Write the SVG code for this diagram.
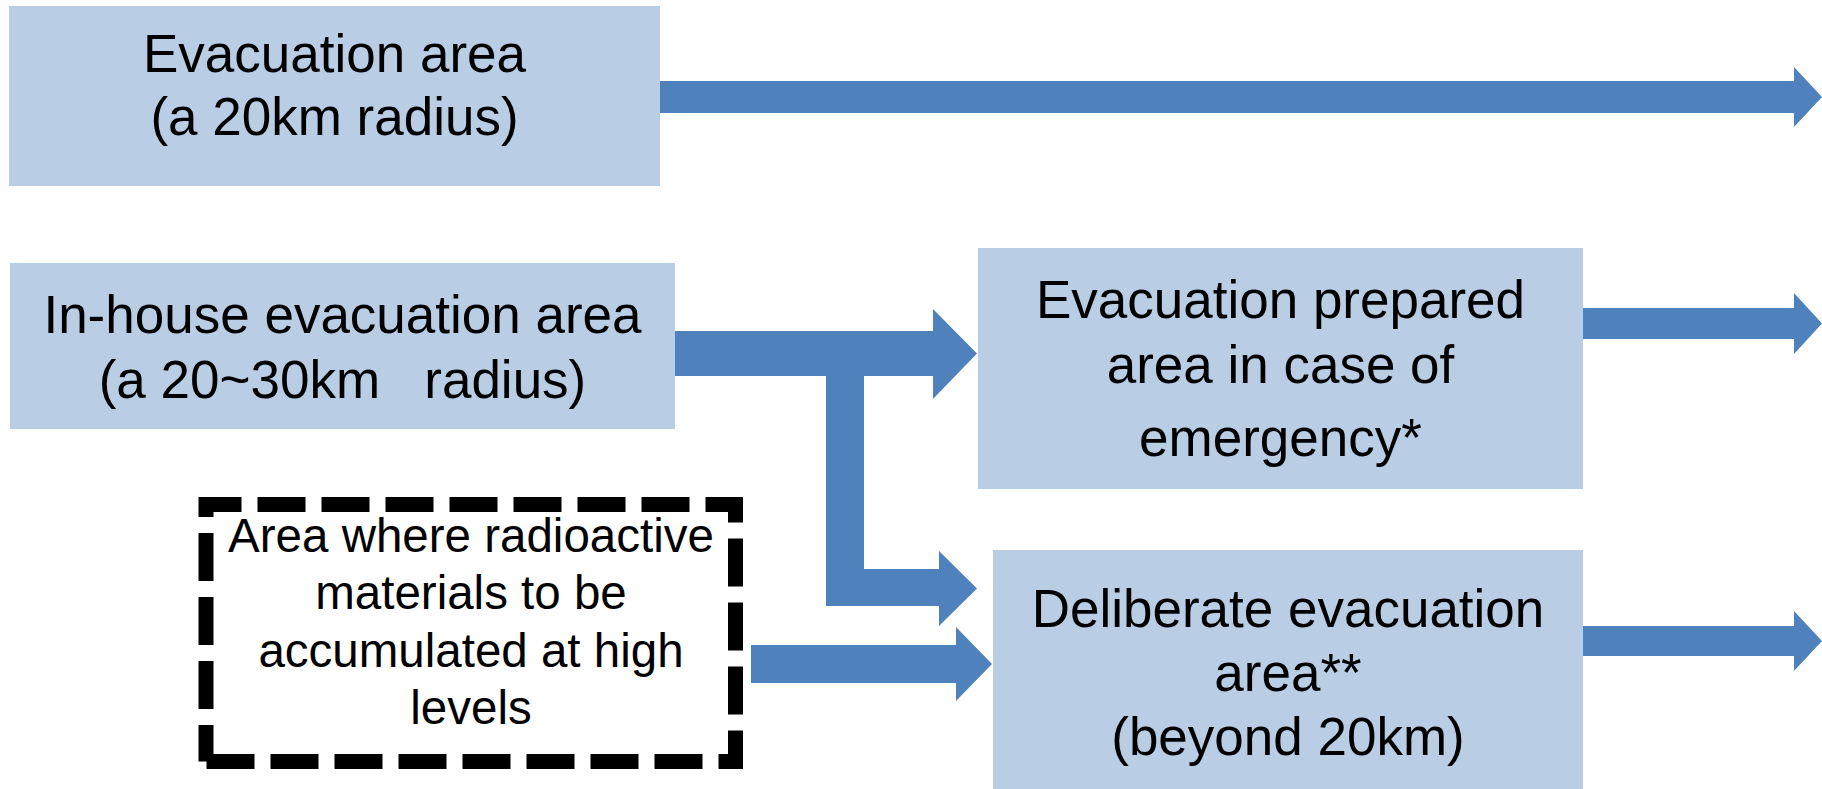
<svg xmlns="http://www.w3.org/2000/svg" width="1822" height="789" viewBox="0 0 1822 789">
  <style>
    .box { fill: #B9CDE5; }
    .t { font-family: "Liberation Sans", Arial, sans-serif; font-size: 53px; fill: #000; text-anchor: middle; white-space: pre; }
    .ts { font-family: "Liberation Sans", Arial, sans-serif; font-size: 47.5px; fill: #000; text-anchor: middle; }
    .arrow { fill: #4F81BD; }
    .dash { fill: none; stroke: #000; stroke-width: 15; stroke-dasharray: 48 16; stroke-linecap: butt; stroke-linejoin: miter; }
  </style>
  <rect width="1822" height="789" fill="#FFFFFF"/>

  <g id="evacuation-area">
    <rect class="box" x="9" y="6" width="651" height="180"/>
    <text class="t" x="334.5" y="72">Evacuation area</text>
    <text class="t" x="334.5" y="135">(a 20km radius)</text>
  </g>

  <g id="inhouse-evacuation-area">
    <rect class="box" x="10" y="263" width="665" height="166"/>
    <text class="t" x="342.5" y="333">In-house evacuation area</text>
    <text class="t" x="342.5" y="398" xml:space="preserve">(a 20~30km   radius)</text>
  </g>

  <g id="evacuation-prepared-area">
    <rect class="box" x="978" y="248" width="605" height="241"/>
    <text class="t" x="1280.5" y="318">Evacuation prepared</text>
    <text class="t" x="1280.5" y="383">area in case of</text>
    <text class="t" x="1280.5" y="456">emergency*</text>
  </g>

  <g id="deliberate-evacuation-area">
    <rect class="box" x="993" y="550" width="590" height="239"/>
    <text class="t" x="1288" y="627">Deliberate evacuation</text>
    <text class="t" x="1288" y="691">area**</text>
    <text class="t" x="1288" y="755">(beyond 20km)</text>
  </g>

  <g id="high-accumulation-area">
    <path class="dash" d="M206,517 V504.5 H735.5 V761.5 H206"/>
    <path class="dash" d="M206,533 V761.5"/>
    <text class="ts" x="471" y="552">Area where radioactive</text>
    <text class="ts" x="471" y="609">materials to be</text>
    <text class="ts" x="471" y="667">accumulated at high</text>
    <text class="ts" x="471" y="724">levels</text>
  </g>

  <g id="connectors">
    <path class="arrow" d="M660,81 H1794 V67 L1822,97 L1794,127 V113 H660 Z"/>
    <path class="arrow" d="M675,331 H933 V309 L977,353.5 L933,399 V376 H675 Z"/>
    <path class="arrow" d="M826,370 H864 V569 H939 V551 L977,588.5 L939,626 V606 H826 Z"/>
    <path class="arrow" d="M751,645 H956 V627 L992,664 L956,701 V683 H751 Z"/>
    <path class="arrow" d="M1583,308 H1794 V293 L1822,323.5 L1794,354 V339 H1583 Z"/>
    <path class="arrow" d="M1583,626 H1794 V611 L1822,641 L1794,671 V656 H1583 Z"/>
  </g>
</svg>
